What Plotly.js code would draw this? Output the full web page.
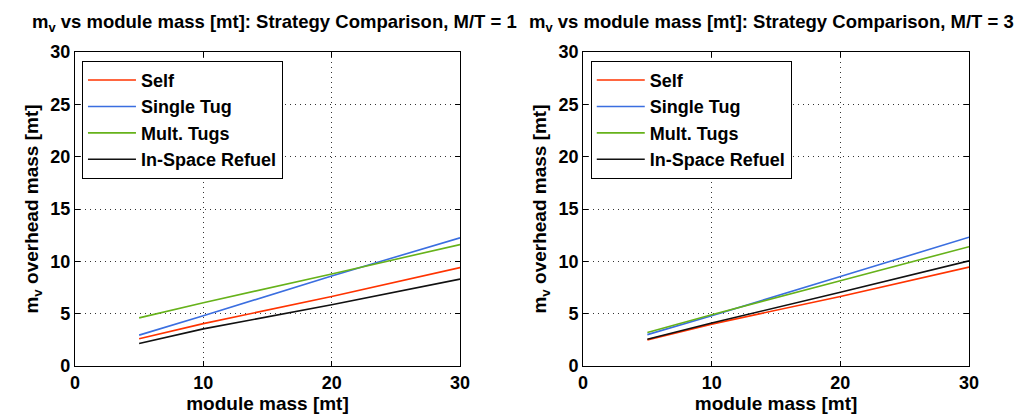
<!DOCTYPE html>
<html>
<head>
<meta charset="utf-8">
<script src="https://cdn.plot.ly/plotly-3.0.1.min.js"></script>
<style>html,body{margin:0;padding:0;background:#fff;}#chart{width:1031px;height:414px;}</style>
</head>
<body>
<div id="chart"></div>
<script>
// Data
const moduleMass = [5, 10, 20, 30];
const seriesNames = ["Self", "Single Tug", "Mult. Tugs", "In-Space Refuel"];
// M/T = 1
const self1   = [2.6, 4.05, 6.65, 9.4];
const single1 = [2.95, 4.8, 8.6, 12.25];
const mult1   = [4.6, 6.05, 8.8, 11.6];
const refuel1 = [2.15, 3.55, 5.85, 8.3];
// M/T = 3
const self3   = [2.5, 4.0, 6.65, 9.45];
const single3 = [3.0, 4.8, 8.55, 12.3];
const mult3   = [3.2, 4.9, 8.15, 11.4];
const refuel3 = [2.55, 4.1, 7.05, 10.05];
const tickVals = [0, 10, 20, 30];
const yTickVals = [0, 5, 10, 15, 20, 25, 30];
const titles = ["m<sub>v</sub> vs module mass [mt]: Strategy Comparison, M/T = 1",
                "m<sub>v</sub> vs module mass [mt]: Strategy Comparison, M/T = 3"];
const xTitle = "module mass [mt]";
const yTitle = "m<sub>v</sub> overhead mass [mt]";

const colors = ["#ff3300", "#3a6ee0", "#66b21a", "#111111"];
const FONT = "Liberation Sans, Arial, sans-serif";

const set1 = [self1, single1, mult1, refuel1];
const set3 = [self3, single3, mult3, refuel3];
const traces = [];
set1.forEach((ys, i) => traces.push({
  x: moduleMass, y: ys, name: seriesNames[i], type: "scatter", mode: "lines",
  line: {color: colors[i], width: 1.6}, xaxis: "x", yaxis: "y", legend: "legend"
}));
set3.forEach((ys, i) => traces.push({
  x: moduleMass, y: ys, name: seriesNames[i], type: "scatter", mode: "lines",
  line: {color: colors[i], width: 1.6}, xaxis: "x2", yaxis: "y2", legend: "legend2"
}));

const tickFont = {family: FONT, size: 18, color: "#000", weight: "bold"};
const titleFont = {family: FONT, size: 19, color: "#000", weight: "bold"};
function xax(domain, anchor) {
  return {
    domain: domain, anchor: anchor, range: [0, 30], tickvals: tickVals,
    ticks: "inside", ticklen: 5, tickcolor: "#000", mirror: "allticks",
    showline: true, linecolor: "#000", linewidth: 1,
    showgrid: true, gridcolor: "#333", griddash: "1px,4px", gridwidth: 1,
    zeroline: false, tickfont: tickFont,
    title: {text: xTitle, font: titleFont, standoff: 1}
  };
}
function yax(anchor) {
  return {
    domain: [0.1159, 0.8744], anchor: anchor, range: [0, 30], tickvals: yTickVals,
    ticks: "inside", ticklen: 5, tickcolor: "#000", mirror: "allticks",
    showline: true, linecolor: "#000", linewidth: 1,
    showgrid: true, gridcolor: "#333", griddash: "1px,4px", gridwidth: 1,
    zeroline: false, tickfont: tickFont,
    title: {text: yTitle, font: titleFont, standoff: 6}
  };
}
function leg(x) {
  return {
    x: x, y: 0.853, xanchor: "left", yanchor: "top",
    bordercolor: "#000", borderwidth: 1, bgcolor: "#fff",
    font: {family: FONT, size: 18, color: "#000", weight: "bold"},
    tracegroupgap: 0, itemwidth: 48
  };
}

const layout = {
  width: 1031, height: 414,
  margin: {l: 0, r: 0, t: 0, b: 0},
  paper_bgcolor: "#fff", plot_bgcolor: "#fff",
  showlegend: true,
  xaxis: xax([0.0727, 0.4462], "y"),
  yaxis: yax("x"),
  xaxis2: xax([0.5655, 0.9399], "y2"),
  yaxis2: yax("x2"),
  legend: leg(0.0795),
  legend2: leg(0.573),
  annotations: [
    {text: titles[0], xref: "paper", yref: "paper", x: 0.266, y: 0.945, xanchor: "center", yanchor: "middle",
     showarrow: false, font: {family: FONT, size: 18.5, color: "#000", weight: "bold"}},
    {text: titles[1], xref: "paper", yref: "paper", x: 0.748, y: 0.945, xanchor: "center", yanchor: "middle",
     showarrow: false, font: {family: FONT, size: 18.5, color: "#000", weight: "bold"}}
  ]
};

Plotly.newPlot("chart", traces, layout, {displayModeBar: false, staticPlot: true});
</script>
</body>
</html>
